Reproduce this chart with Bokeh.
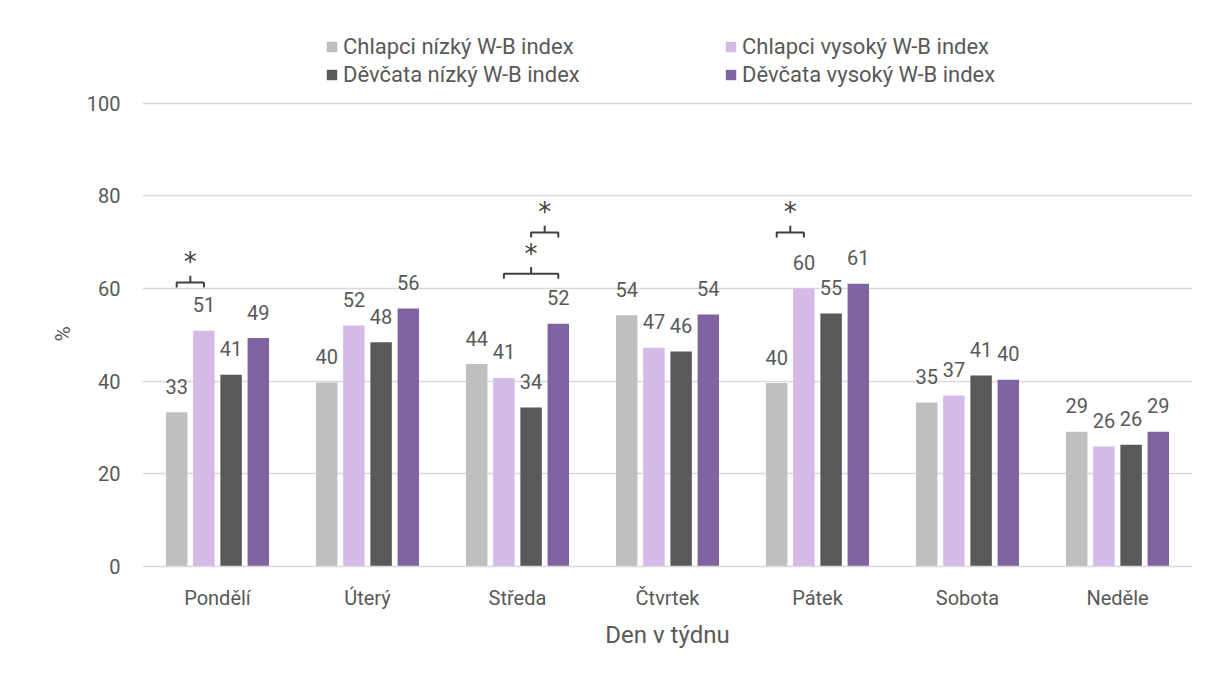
from bokeh.plotting import figure
from bokeh.models import ColumnDataSource, FactorRange, Range1d, FixedTicker, Legend, LegendItem, Title
from bokeh.transform import dodge
from bokeh.core.properties import value
from bokeh.embed import file_html
from bokeh.resources import INLINE

days = ["Pondělí", "Úterý", "Středa", "Čtvrtek", "Pátek", "Sobota", "Neděle"]
series_names = ["Chlapci nízký W-B index", "Chlapci vysoký W-B index",
                "Děvčata nízký W-B index", "Děvčata vysoký W-B index"]
boys_low = [33.3, 39.7, 43.7, 54.2, 39.6, 35.4, 29.1]
boys_high = [50.9, 52.0, 40.7, 47.2, 60.0, 36.9, 25.9]
girls_low = [41.4, 48.4, 34.3, 46.4, 54.6, 41.2, 26.3]
girls_high = [49.3, 55.7, 52.4, 54.4, 61.0, 40.3, 29.1]
y_ticks = [0, 20, 40, 60, 80, 100]

# significance brackets: day, from-series index, to-series index, level (%)
bracket_day = ["Pondělí", "Středa", "Středa", "Pátek"]
bracket_from = [0, 1, 2, 0]
bracket_to = [1, 3, 3, 1]
bracket_level = [61.3, 63.2, 72.1, 72.1]
bracket_mark = ["*", "*", "*", "*"]

colors = ["#BFBFBF", "#D5BAE8", "#595959", "#8064A2"]
offsets = [-0.272, -0.0907, 0.0907, 0.272]
bar_w = 0.143
FONT = "Roboto"
FS = "20px"
TXT = "#595959"

p = figure(width=1200, height=669,
           x_range=FactorRange(factors=days), y_range=Range1d(0, 120),
           output_backend="svg", toolbar_location=None,
           min_border_left=142, min_border_right=8,
           min_border_top=10, min_border_bottom=103)
p.outline_line_color = None
p.background_fill_color = "white"
p.xgrid.grid_line_color = None
p.ygrid.grid_line_color = "#D9D9D9"
p.ygrid.ticker = FixedTicker(ticks=y_ticks)
p.ygrid.grid_line_width = 1.3

p.yaxis.ticker = FixedTicker(ticks=y_ticks)
p.yaxis.axis_line_color = None
p.yaxis.major_tick_line_color = None
p.yaxis.minor_tick_line_color = None
p.yaxis.major_tick_out = 0
p.yaxis.major_tick_in = 0
p.yaxis.major_label_standoff = 22

p.xaxis.axis_line_color = "#D9D9D9"
p.xaxis.axis_line_width = 1.3
p.xaxis.major_tick_line_color = None
p.xaxis.minor_tick_line_color = None
p.xaxis.major_label_standoff = 13
p.xaxis.axis_label = "Den v týdnu"
p.xaxis.axis_label_standoff = 8

for ax in (p.xaxis[0], p.yaxis[0]):
    ax.major_label_text_font = FONT
    ax.major_label_text_font_size = FS
    ax.major_label_text_color = TXT
    ax.axis_label_text_font = FONT
    ax.axis_label_text_color = TXT
    ax.axis_label_text_font_style = "normal"
p.xaxis.axis_label_text_font_size = "24px"

# y-axis title, placed at the middle of the 0-100 part of the axis
p.add_layout(Title(text="%", align="left", offset=225, standoff=18,
                   text_font=FONT, text_font_size="21px", text_color=TXT,
                   text_font_style="normal"), "left")

renderers = []
for name, vals, col, off in zip(series_names, [boys_low, boys_high, girls_low, girls_high], colors, offsets):
    src = ColumnDataSource(dict(day=days, v=vals, lbl=[f"{v:.0f}" for v in vals]))
    r = p.vbar(x=dodge("day", off, range=p.x_range), top="v", width=bar_w,
               fill_color=col, line_color=None, source=src)
    renderers.append(r)
    p.text(x=dodge("day", off, range=p.x_range), y="v", text="lbl", source=src,
           text_align="center", text_baseline="alphabetic", y_offset=-26,
           text_font=value(FONT), text_font_size=FS, text_color=TXT)

# brackets
tick = 1.1
xs, ys, sx, sy = [], [], [], []
for d, a, b, lv in zip(bracket_day, bracket_from, bracket_to, bracket_level):
    base = days.index(d) + 0.5
    x1, x2 = base + offsets[a], base + offsets[b]
    xm = (x1 + x2) / 2
    xs.append([x1, x1, x2, x2]); ys.append([lv - tick, lv, lv, lv - tick])
    xs.append([xm, xm]); ys.append([lv, lv + 1.3 * tick])
    sx.append(xm); sy.append(lv)
p.multi_line(xs=xs, ys=ys, line_color="#404040", line_width=2)
p.text(x=sx, y=sy, text=bracket_mark, text_align="center", text_baseline="alphabetic",
       y_offset=-20, text_font=value("DejaVu Sans"), text_font_size="26px", text_color="#404040")

def make_legend(items, x):
    lg = Legend(items=items, location=(x, 479), orientation="vertical",
                border_line_color=None, background_fill_alpha=0, padding=0, margin=0,
                spacing=3, glyph_height=13, glyph_width=13, label_height=20,
                label_standoff=5, label_text_font=FONT, label_text_font_size="22px",
                label_text_color=TXT)
    p.add_layout(lg)

make_legend([LegendItem(label=series_names[0], renderers=[renderers[0]]),
             LegendItem(label=series_names[2], renderers=[renderers[2]])], 183)
make_legend([LegendItem(label=series_names[1], renderers=[renderers[1]]),
             LegendItem(label=series_names[3], renderers=[renderers[3]])], 582)

open("out.html", "w").write(file_html(p, INLINE))
